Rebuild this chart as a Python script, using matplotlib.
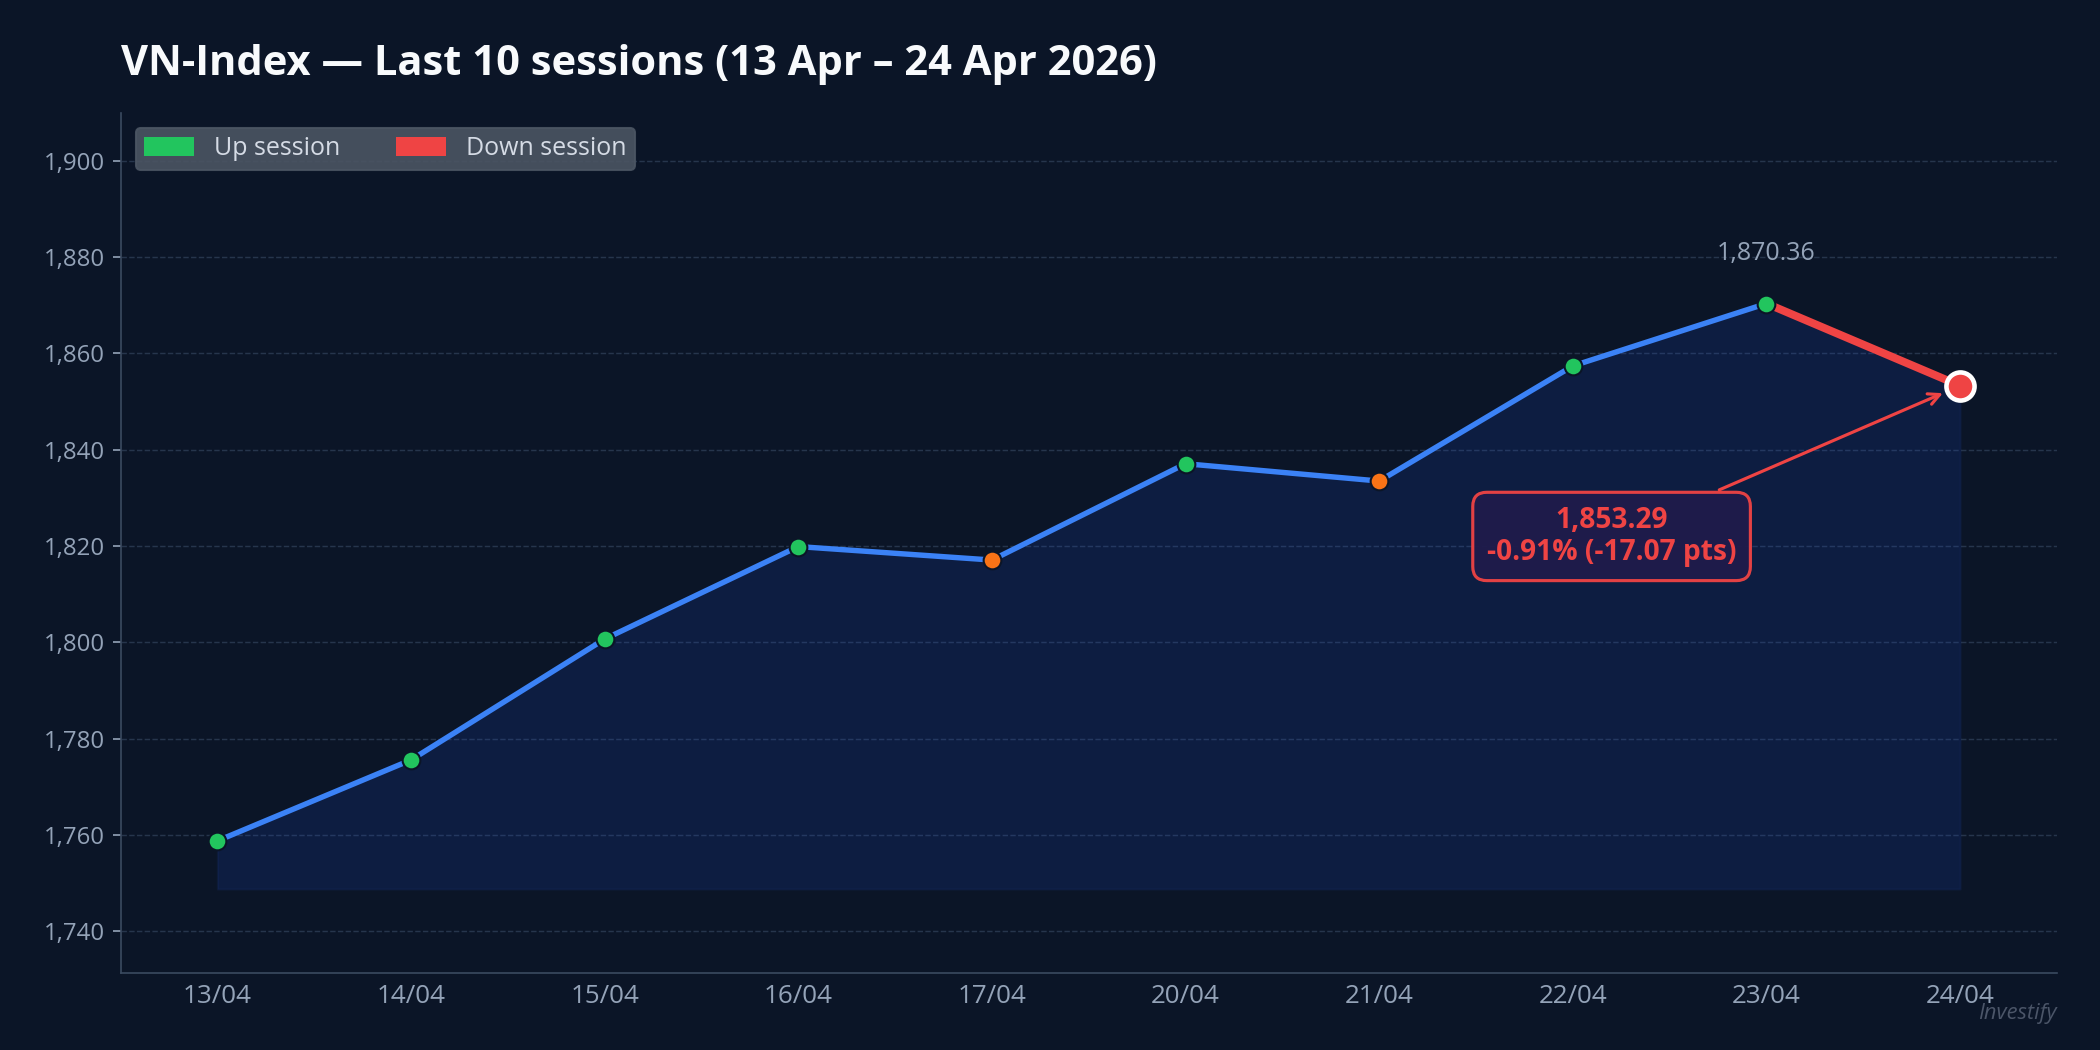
import matplotlib.pyplot as plt
from matplotlib.patches import Patch
from matplotlib.ticker import FuncFormatter

# -------------------------------
# Data
# -------------------------------
dates = ["13/04", "14/04", "15/04", "16/04", "17/04",
         "20/04", "21/04", "22/04", "23/04", "24/04"]
closes = [1758.8, 1775.6, 1800.7, 1819.9, 1817.1,
          1837.1, 1833.5, 1857.4, 1870.36, 1853.29]
title = "VN-Index \u2014 Last 10 sessions (13 Apr \u2013 24 Apr 2026)"

# -------------------------------
# Colours
# -------------------------------
BG = "#0b1527"
BLUE = "#3b82f6"
GREEN = "#22c55e"
ORANGE = "#f97316"
RED = "#ef4444"
MUTED = "#94a3b8"
GRID = "#26354c"
SPINE = "#3a4a60"

plt.rcParams["font.family"] = ["Open Sans", "DejaVu Sans"]

fig = plt.figure(figsize=(14, 7), dpi=150, facecolor=BG)
ax = fig.add_axes([0.0574, 0.0730, 0.9221, 0.8198])
ax.set_facecolor(BG)

x = list(range(len(dates)))
fill_base = min(closes) - 10

# area under the line
ax.fill_between(x, closes, fill_base, color="#1d4ed8", alpha=0.15,
                edgecolor="#1e3a8a", linewidth=1.0, zorder=1)

# main line (all but last segment) and the last down segment
ax.plot(x[:-1], closes[:-1], color=BLUE, linewidth=2.6, zorder=3,
        solid_capstyle="round")
last_col = RED if closes[-1] < closes[-2] else GREEN
ax.plot(x[-2:], closes[-2:], color=last_col, linewidth=3.8, zorder=3,
        solid_capstyle="round")

# session markers
for i in range(len(closes) - 1):
    up = i == 0 or closes[i] >= closes[i - 1]
    ax.plot(x[i], closes[i], "o", markersize=8.5,
            color=GREEN if up else ORANGE,
            markeredgecolor=BG, markeredgewidth=1.0, zorder=4)
ax.plot(x[-1], closes[-1], "o", markersize=13.5, color=last_col,
        markeredgecolor="white", markeredgewidth=2.2, zorder=5)

# peak label
peak = closes.index(max(closes))
ax.annotate(f"{closes[peak]:,.2f}", (x[peak], closes[peak]),
            xytext=(0, 18), textcoords="offset points",
            ha="center", va="bottom", fontsize=12, color=MUTED, zorder=6)

# last close callout
chg = closes[-1] - closes[-2]
pct = chg / closes[-2] * 100
ax.annotate(f"{closes[-1]:,.2f}\n{pct:.2f}% ({chg:.2f} pts)",
            xy=(x[-1], closes[-1]), xytext=(7.2, 1822),
            ha="center", va="center", fontsize=13.5, fontweight="bold",
            color=RED, linespacing=1.1, zorder=6,
            bbox=dict(boxstyle="round,pad=0.5", facecolor="#1f1b4b",
                      edgecolor=RED, linewidth=1.5, alpha=0.95),
            arrowprops=dict(arrowstyle="->", color=RED, lw=1.5,
                            shrinkB=9))

# axes styling
ax.set_xlim(-0.5, len(dates) - 0.5)
ax.set_ylim(1731.3, 1910)
ax.set_xticks(x)
ax.set_xticklabels(dates)
ax.set_yticks(range(1740, 1901, 20))
ax.yaxis.set_major_formatter(FuncFormatter(lambda v, p: f"{v:,.0f}"))
ax.tick_params(axis="x", length=0, pad=5, labelsize=12.5, labelcolor=MUTED)
ax.tick_params(axis="y", length=4, color=MUTED, labelsize=11.5,
               labelcolor=MUTED)
ax.grid(axis="y", color=GRID, linestyle="--", linewidth=0.7)
ax.set_axisbelow(True)
for side in ("top", "right"):
    ax.spines[side].set_visible(False)
for side in ("left", "bottom"):
    ax.spines[side].set_color(SPINE)

# legend
handles = [Patch(facecolor=GREEN, label="Up session"),
           Patch(facecolor=RED, label="Down session")]
leg = ax.legend(handles=handles, loc="upper left", ncol=2, fontsize=12,
                frameon=True, facecolor="#4b5563", edgecolor="#4b5563",
                framealpha=0.9, labelcolor="#d5dbe5", borderaxespad=0.6,
                columnspacing=2.2, handlelength=2.0, handleheight=0.8,
                borderpad=0.35)

fig.text(0.0574, 0.9286, title, fontsize=20, fontweight="bold",
         color="#f8fafc", ha="left", va="baseline")
fig.text(0.9795, 0.035, "Investify", fontsize=10.5, style="italic",
         color="#4b5568", ha="right", va="center")

fig.savefig("out.png", dpi=150, facecolor=BG)
plt.close(fig)
